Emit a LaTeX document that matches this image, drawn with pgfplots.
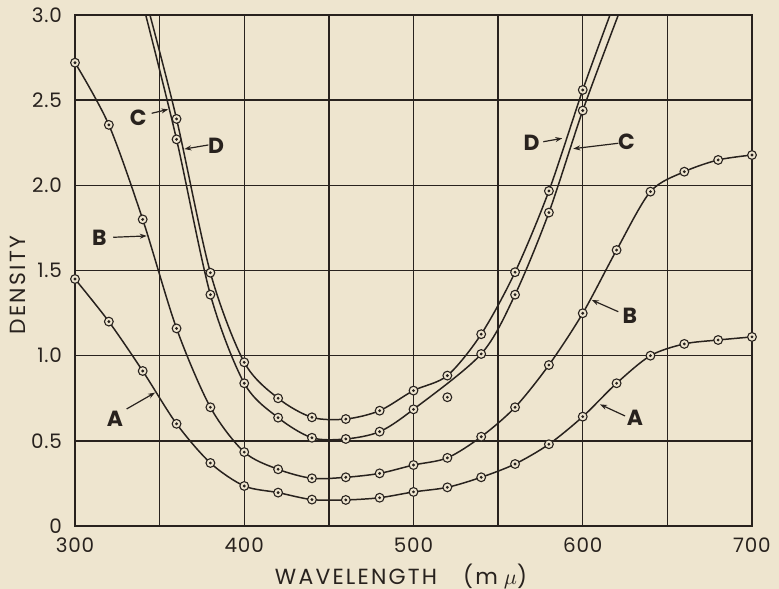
\documentclass[border=0pt]{standalone}
\usepackage{fontspec}
\setmainfont{Poppins}
\usepackage{pgfplots}
\usepackage{pgfplotstable}
\pgfplotsset{compat=1.18}
\usetikzlibrary{arrows.meta}
\definecolor{bg}{RGB}{238,229,207}
\definecolor{ink}{RGB}{40,34,30}

\pgfplotstableread{
x y
300 1.45
320 1.20
340 0.91
360 0.60
380 0.37
400 0.235
420 0.196
440 0.155
460 0.153
480 0.166
500 0.20
520 0.227
540 0.286
560 0.364
580 0.48
600 0.642
620 0.838
640 1.00
660 1.069
680 1.092
700 1.11
}\dataA

\pgfplotstableread{
x y
300 2.72
320 2.355
340 1.80
360 1.16
380 0.697
400 0.434
420 0.333
440 0.28
460 0.286
480 0.309
500 0.358
520 0.40
540 0.524
560 0.697
580 0.945
600 1.249
620 1.62
640 1.963
660 2.08
680 2.149
700 2.178
}\dataB

\pgfplotstableread{
x y
360 2.27
380 1.358
400 0.838
420 0.636
440 0.518
460 0.511
480 0.554
500 0.685
520 0.756
540 1.01
560 1.358
580 1.84
600 2.439
}\dataC

\pgfplotstableread{
x y
341.8 3.0
360 2.27
380 1.358
400 0.838
420 0.636
440 0.518
460 0.511
480 0.554
500 0.685
540 1.01
560 1.358
580 1.84
600 2.439
621.0 3.0
}\lineC

\pgfplotstableread{
x y
360 2.39
380 1.487
400 0.961
420 0.75
440 0.638
460 0.628
480 0.677
500 0.795
520 0.883
540 1.126
560 1.49
580 1.967
600 2.56
}\dataD

\pgfplotstableread{
x y
344.3 3.0
360 2.39
380 1.487
400 0.961
420 0.75
440 0.638
460 0.628
480 0.677
500 0.795
520 0.883
540 1.126
560 1.49
580 1.967
600 2.56
616.1 3.0
}\lineD

\pgfplotsset{
  ring/.style={only marks, mark=*, mark size=2.2pt, mark options={fill=bg, draw=ink, line width=0.55pt}},
  dot/.style={only marks, mark=*, mark size=0.5pt, mark options={fill=ink, draw=ink}},
}

\begin{document}
\begin{tikzpicture}
\useasboundingbox (-37.5bp,-31.5bp) rectangle (352bp,263bp);
\fill[bg] (-37.5bp,-31.5bp) rectangle (352bp,263bp);
\begin{axis}[
  at={(0,0)}, anchor=south west,
  scale only axis, width=338.5bp, height=255.5bp,
  xmin=300, xmax=700, ymin=0, ymax=3,
  xtick={300,350,400,450,500,550,600,650,700},
  xticklabels={300,,400,,500,,600,,700},
  ytick={0,0.5,1,1.5,2,2.5,3},
  yticklabels={0,0.5,1.0,1.5,2.0,2.5,3.0},
  grid=major,
  major grid style={ink, line width=0.7pt},
  major tick length=0pt,
  axis line style={ink, line width=1.2pt},
  tick label style={font=\fontsize{10}{11}\selectfont\addfontfeatures{LetterSpace=4}, text=ink},
  xticklabel style={yshift=-2.5bp},
  yticklabel style={xshift=-3bp},
  xlabel={WAVELENGTH\hspace{13bp}(m\hspace{3bp}$\mu$)},
  ylabel={DENSITY},
  label style={font=\fontsize{11}{12}\selectfont\addfontfeatures{LetterSpace=10}, text=ink},
  xlabel style={at={(axis description cs:0.4815,-0.0978)}, anchor=center},
  ylabel style={at={(axis description cs:-0.0837,0.4716)}, anchor=center},
  every axis plot/.append style={ink},
]
\addplot[smooth, line width=0.75pt] table {\dataA};
\addplot[smooth, line width=0.75pt] table {\dataB};
\addplot[smooth, line width=0.75pt] table {\lineC};
\addplot[smooth, line width=0.75pt] table {\lineD};

\addplot[ring] table {\dataA};
\addplot[dot] table {\dataA};
\addplot[ring] table {\dataB};
\addplot[dot] table {\dataB};
\addplot[ring] table {\dataC};
\addplot[dot] table {\dataC};
\addplot[ring] table {\dataD};
\addplot[dot] table {\dataD};

\begin{scope}[every node/.style={font=\fontsize{11}{12}\selectfont\bfseries, text=ink}, arr/.style={ink, line width=0.6pt, -{Stealth[length=3.5pt,width=2.5pt]}}]
\node at (axis cs:323.6,0.632) {A};
\draw[arr] (axis cs:330.5,0.687) -- (axis cs:347.3,0.783);
\node at (axis cs:630.9,0.636) {A};
\draw[arr] (axis cs:625.0,0.646) -- (axis cs:610.2,0.714);
\node at (axis cs:314.4,1.689) {B};
\draw[arr] (axis cs:322.6,1.695) -- (axis cs:342.4,1.703);
\node at (axis cs:627.9,1.235) {B};
\draw[arr] (axis cs:621.0,1.258) -- (axis cs:605.3,1.327);
\node at (axis cs:337.4,2.394) {C};
\draw[arr] (axis cs:345.3,2.423) -- (axis cs:355.1,2.446);
\node at (axis cs:383.3,2.233) {D};
\draw[arr] (axis cs:378.8,2.237) -- (axis cs:364.6,2.213);
\node at (axis cs:569.8,2.250) {D};
\draw[arr] (axis cs:576.7,2.256) -- (axis cs:587.9,2.276);
\node at (axis cs:625.9,2.256) {C};
\draw[arr] (axis cs:621.0,2.247) -- (axis cs:594.4,2.215);
\end{scope}
\end{axis}
\end{tikzpicture}
\end{document}
